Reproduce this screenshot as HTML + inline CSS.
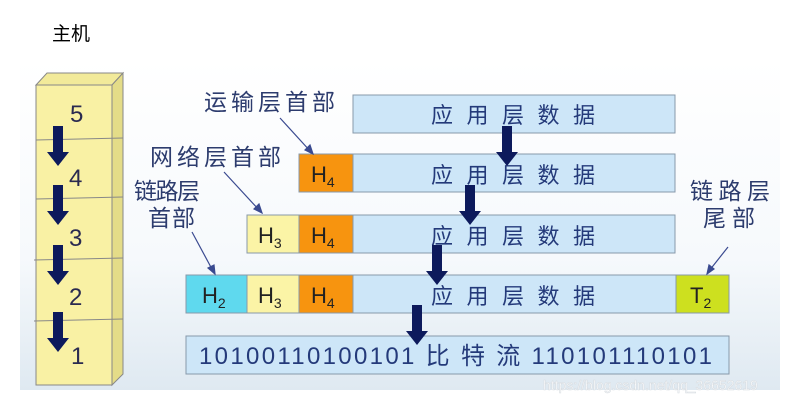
<!DOCTYPE html>
<html><head><meta charset="utf-8"><style>
body{margin:0;width:797px;height:403px;overflow:hidden;background:#fff;}
svg text{font-family:"Liberation Sans","Noto Sans CJK SC",sans-serif;}
</style></head><body>
<svg width="797" height="403" viewBox="0 0 797 403">
<defs>
<linearGradient id="bg" x1="0" y1="0" x2="0" y2="1">
<stop offset="0" stop-color="#ffffff"/><stop offset="0.6" stop-color="#f6f9fc"/><stop offset="1" stop-color="#dfe9f1"/>
</linearGradient>
<g id="arr"><rect x="-5" y="0" width="10" height="28" fill="#0d1a5c"/><polygon points="-11,26 11,26 0,40" fill="#0d1a5c"/></g>
</defs>
<rect x="20" y="60" width="760" height="330" fill="url(#bg)"/>
<text x="52" y="40" font-size="19" fill="#000">主机</text>
<!-- stack -->
<polygon points="36,85 47,73 123,73 112,85" fill="#f2ea9a" stroke="#888" stroke-width="1"/>
<polygon points="112,85 123,73 123,374 112,385" fill="#e4dc88" stroke="#888" stroke-width="1"/>
<rect x="36" y="85" width="76" height="300" fill="#f9f1a4" stroke="#888" stroke-width="1"/>
<g stroke="#888" stroke-width="1">
<line x1="36" y1="140" x2="123" y2="138"/><line x1="36" y1="199" x2="123" y2="197"/>
<line x1="34" y1="260" x2="123" y2="258"/><line x1="34" y1="321" x2="123" y2="319"/>
</g>
<g font-size="24" fill="#2a2a50">
<text x="70" y="122">5</text><text x="69" y="186">4</text><text x="69" y="246">3</text><text x="69" y="305">2</text><text x="71" y="364">1</text>
</g>
<use href="#arr" x="58" y="126"/><use href="#arr" x="58" y="185"/><use href="#arr" x="58" y="245"/><use href="#arr" x="58" y="312"/>
<!-- rows -->
<g stroke="#8899aa" stroke-width="1">
<rect x="353" y="95" width="322" height="38" fill="#cde6f8"/>
<rect x="353" y="154" width="322" height="38" fill="#cde6f8"/>
<rect x="353" y="215" width="322" height="38" fill="#cde6f8"/>
<rect x="353" y="275" width="323" height="38" fill="#cde6f8"/>
<rect x="299" y="154" width="54" height="38" fill="#f7940f"/>
<rect x="247" y="215" width="52" height="38" fill="#fbf4a6"/>
<rect x="299" y="215" width="54" height="38" fill="#f7940f"/>
<rect x="186" y="275" width="61" height="38" fill="#5fd9ee"/>
<rect x="247" y="275" width="52" height="38" fill="#fbf4a6"/>
<rect x="299" y="275" width="54" height="38" fill="#f7940f"/>
<rect x="676" y="275" width="53" height="38" fill="#cde01f"/>
<rect x="186" y="336" width="543" height="38" fill="#cde6f8"/>
</g>
<g font-size="22" fill="#243a7a">
<text x="431" y="123" textLength="164" lengthAdjust="spacing">应用层数据</text>
<text x="431" y="183" textLength="164" lengthAdjust="spacing">应用层数据</text>
<text x="431" y="244" textLength="164" lengthAdjust="spacing">应用层数据</text>
<text x="431" y="304" textLength="164" lengthAdjust="spacing">应用层数据</text>
</g>
<g font-size="22" fill="#222">
<text x="311" y="182">H<tspan font-size="14" dy="5">4</tspan></text>
<text x="258" y="243">H<tspan font-size="14" dy="5">3</tspan></text>
<text x="311" y="243">H<tspan font-size="14" dy="5">4</tspan></text>
<text x="202" y="303">H<tspan font-size="14" dy="5">2</tspan></text>
<text x="258" y="303">H<tspan font-size="14" dy="5">3</tspan></text>
<text x="311" y="303">H<tspan font-size="14" dy="5">4</tspan></text>
<text x="690" y="303">T<tspan font-size="14" dy="5">2</tspan></text>
</g>
<text x="199" y="364" font-size="24" fill="#243a7a" textLength="513" lengthAdjust="spacing">10100110100101 比 特 流 110101110101</text>
<use href="#arr" x="507" y="126"/><use href="#arr" x="470" y="185"/><use href="#arr" x="437" y="245"/><use href="#arr" x="417" y="305"/>
<!-- labels -->
<g font-size="23" fill="#2d3c6e">
<text x="204" y="110" textLength="131" lengthAdjust="spacing">运输层首部</text>
<text x="150" y="165" textLength="131" lengthAdjust="spacing">网络层首部</text>
<text x="134" y="199" textLength="66" lengthAdjust="spacing">链路层</text>
<text x="148" y="226" textLength="47" lengthAdjust="spacing">首部</text>
<text x="690" y="199" textLength="80" lengthAdjust="spacing">链路层</text>
<text x="703" y="226" textLength="52" lengthAdjust="spacing">尾部</text>
</g>
<g stroke="#3a4a90" stroke-width="1.2" fill="#3a4a90">
<line x1="280" y1="118" x2="311" y2="152"/><polygon points="313,154 305,150 310,145"/>
<line x1="224" y1="172" x2="260" y2="211"/><polygon points="262,213 254,209 259,204"/>
<line x1="192" y1="232" x2="213" y2="271"/><polygon points="215,274 208,268 214,265"/>
<line x1="728" y1="247" x2="709" y2="271"/><polygon points="707,274 709,265 714,269"/>
</g>
<text x="543" y="390" font-size="14" fill="#ffffff" stroke="#d8dde2" stroke-width="0.6">https://blog.csdn.net/qq_36652619</text>
</svg>
</body></html>
